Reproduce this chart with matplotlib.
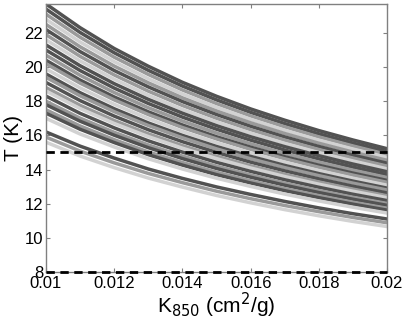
import matplotlib
matplotlib.use("Agg")
import matplotlib.pyplot as plt

# === 数据 ===
k850 = [0.010, 0.011, 0.012, 0.013, 0.014, 0.015,
        0.016, 0.017, 0.018, 0.019, 0.020]

# 每条曲线在 k850 各点的温度值, 从上到下
curves = [
    [23.7, 22.31, 21.09, 20.05, 19.11, 18.29, 17.55, 16.89, 16.28, 15.73, 15.22],
    [23.4, 22.03, 20.84, 19.81, 18.89, 18.08, 17.35, 16.69, 16.09, 15.55, 15.05],
    [23.1, 21.75, 20.58, 19.57, 18.66, 17.86, 17.14, 16.50, 15.91, 15.38, 14.88],
    [22.8, 21.47, 20.32, 19.32, 18.43, 17.65, 16.94, 16.30, 15.72, 15.20, 14.71],
    [22.5, 21.19, 20.06, 19.08, 18.20, 17.43, 16.74, 16.11, 15.54, 15.02, 14.54],
    [22.2, 20.91, 19.80, 18.84, 17.98, 17.22, 16.53, 15.91, 15.35, 14.84, 14.37],
    [21.9, 20.63, 19.54, 18.59, 17.75, 17.00, 16.33, 15.72, 15.17, 14.67, 14.20],
    [21.6, 20.36, 19.29, 18.35, 17.52, 16.79, 16.13, 15.53, 14.99, 14.50, 14.04],
    [21.3, 20.08, 19.03, 18.11, 17.30, 16.57, 15.92, 15.34, 14.81, 14.32, 13.87],
    [21.0, 19.80, 18.77, 17.87, 17.07, 16.36, 15.72, 15.14, 14.62, 14.14, 13.70],
    [20.7, 19.52, 18.51, 17.62, 16.84, 16.14, 15.51, 14.94, 14.43, 13.96, 13.53],
    [20.4, 19.24, 18.25, 17.38, 16.61, 15.92, 15.31, 14.75, 14.25, 13.79, 13.36],
    [20.2, 19.06, 18.08, 17.22, 16.46, 15.79, 15.18, 14.63, 14.13, 13.67, 13.25],
    [19.9, 18.78, 17.82, 16.98, 16.23, 15.57, 14.97, 14.43, 13.94, 13.49, 13.08],
    [19.6, 18.50, 17.56, 16.73, 16.00, 15.35, 14.77, 14.24, 13.76, 13.32, 12.91],
    [19.4, 18.32, 17.39, 16.58, 15.86, 15.21, 14.63, 14.11, 13.64, 13.20, 12.80],
    [19.1, 18.04, 17.13, 16.33, 15.63, 15.00, 14.43, 13.92, 13.45, 13.02, 12.63],
    [18.8, 17.76, 16.87, 16.09, 15.40, 14.78, 14.22, 13.72, 13.27, 12.85, 12.46],
    [18.6, 17.57, 16.70, 15.93, 15.25, 14.64, 14.09, 13.59, 13.14, 12.73, 12.35],
    [18.3, 17.29, 16.44, 15.68, 15.02, 14.42, 13.89, 13.40, 12.96, 12.55, 12.18],
    [18.0, 17.01, 16.18, 15.44, 14.79, 14.20, 13.68, 13.20, 12.77, 12.37, 12.01],
    [17.8, 16.83, 16.01, 15.28, 14.64, 14.06, 13.55, 13.08, 12.65, 12.26, 11.90],
    [17.5, 16.55, 15.75, 15.03, 14.41, 13.84, 13.34, 12.88, 12.47, 12.08, 11.73],
    [17.3, 16.36, 15.58, 14.87, 14.26, 13.70, 13.21, 12.76, 12.35, 11.97, 11.62],
    [17.0, 16.08, 15.32, 14.63, 14.03, 13.49, 13.01, 12.56, 12.16, 11.79, 11.45],
    [16.2, 15.37, 14.67, 14.03, 13.48, 12.98, 12.54, 12.13, 11.75, 11.41, 11.10],
    [15.9, 15.08, 14.39, 13.77, 13.23, 12.73, 12.29, 11.89, 11.53, 11.19, 10.88],
    [15.6, 14.79, 14.11, 13.50, 12.97, 12.48, 12.05, 11.65, 11.29, 10.96, 10.66],
]

# 灰度: d=深灰, m=中灰, l=浅灰
shades = ["d", "d", "m", "l", "m", "d", "m", "l", "d", "d", "m", "d", "m", "l",
          "d", "m", "d", "m", "l", "d", "m", "d", "m", "d", "l", "d", "m", "l"]
gray = {"d": "#525252", "m": "#9a9a9a", "l": "#d2d2d2"}

t_limits = [15, 8]

plt.rcParams["font.family"] = ["Liberation Sans", "DejaVu Sans"]

fig = plt.figure(figsize=(4.07, 3.30), dpi=100)
ax = fig.add_axes([0.113, 0.176, 0.838, 0.812])

for vals, s in zip(curves, shades):
    ax.plot(k850, vals, color=gray[s], lw=2.5, solid_joinstyle="round")

for t in t_limits:
    ax.axhline(t, color="black", lw=2.0, ls=(0, (3, 2)), zorder=5, clip_on=False)

ax.set_xlim(0.01, 0.02)
ax.set_ylim(8, 23.7)
ax.set_xticks([0.01, 0.012, 0.014, 0.016, 0.018, 0.02])
ax.set_xticklabels(["0.01", "0.012", "0.014", "0.016", "0.018", "0.02"])
ax.set_yticks(range(8, 23, 2))

ax.tick_params(direction="in", top=True, right=True, length=3, width=0.8,
               color="#808080", labelsize=12, pad=2)
ax.tick_params(axis="x", pad=3)
for sp in ax.spines.values():
    sp.set_color("#808080")
    sp.set_linewidth(1.0)

ax.set_xlabel("K$_{850}$ (cm$^{2}$/g)", fontsize=15, labelpad=0)
ax.set_ylabel("T (K)", fontsize=15, labelpad=1)

plt.savefig("out.png", dpi=100)
plt.close()
